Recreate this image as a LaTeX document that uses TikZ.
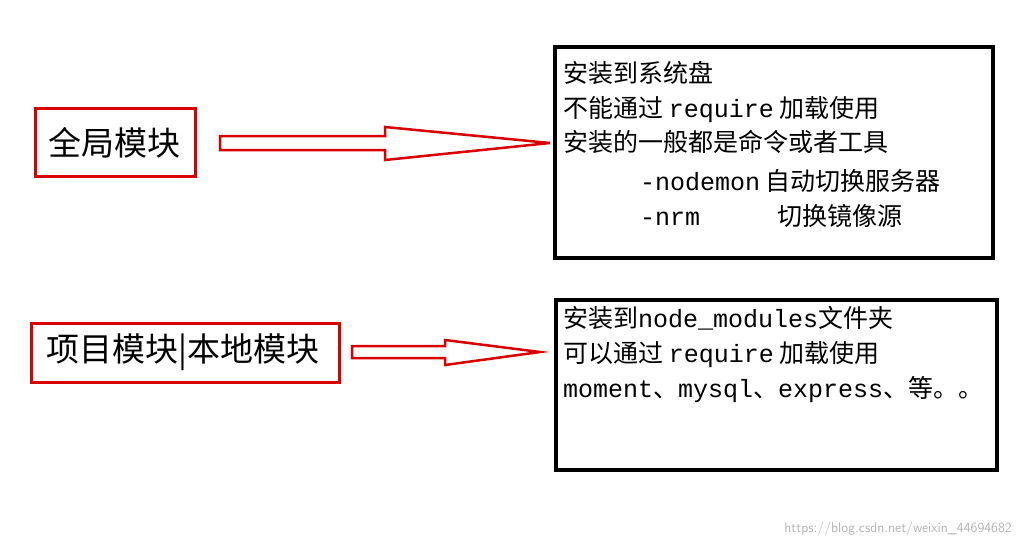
\documentclass[tikz,border=0pt]{standalone}
\usepackage{fontspec}
\setmainfont{Noto Sans CJK SC}
\setmonofont{Liberation Mono}
\begin{document}
\begin{tikzpicture}[x=1pt,y=-1pt,
  redbox/.style={draw=red!85!black,line width=3pt,inner sep=0pt},
  blkbox/.style={draw=black,line width=3.5pt},
  hollow/.style={draw=red!85!black,line width=2.5pt,fill=white,line join=miter},
  txt/.style={anchor=base west,font=\fontsize{25}{25}\selectfont,inner sep=0pt},
  lbl/.style={font=\fontsize{33}{33}\selectfont,inner sep=0pt}]
\useasboundingbox (0,0) rectangle (1022,546);
% left boxes
\draw[redbox] (35,108) rectangle (195,176);
\node[lbl] (g) at (114,143) {全局模块};
\draw[redbox] (31,323) rectangle (339,382);
\node[lbl] (p) at (183,352) {项目模块|本地模块};
% right boxes
\draw[blkbox] (555,47) rectangle (993,258);
\draw[blkbox] (556,300) rectangle (997,470);
\node[txt] (a1) at (563,82) {安装到系统盘};
\node[txt] (a2) at (563,117) {不能通过\ \texttt{require}\ 加载使用};
\node[txt] (a3) at (563,151) {安装的一般都是命令或者工具};
\node[txt] (a4) at (640,190) {\texttt{-nodemon}\ 自动切换服务器};
\node[txt] (a5) at (640,225) {\texttt{-nrm}};
\node[txt] (a6) at (777,225) {切换镜像源};
\node[txt] (b1) at (563,327) {安装到\texttt{node\_modules}文件夹};
\node[txt] (b2) at (563,362) {可以通过\ \texttt{require}\ 加载使用};
\node[txt] (b3) at (563,397) {\texttt{moment}、\texttt{mysql}、\texttt{express}、等。。};
% arrows
\draw[hollow] (220,136) -- (385,136) -- (385,127) -- (550,143) -- (385,160) -- (385,150) -- (220,150) -- cycle;
\draw[hollow] (352,346) -- (445,346) -- (445,340) -- (540,352) -- (445,365) -- (445,358) -- (352,358) -- cycle;
\node[anchor=base east,font=\fontsize{14}{14}\selectfont\sffamily,text=gray!60,inner sep=0pt] (w) at (1012,532) {https://blog.csdn.net/weixin\_44694682};
\end{tikzpicture}
\end{document}
